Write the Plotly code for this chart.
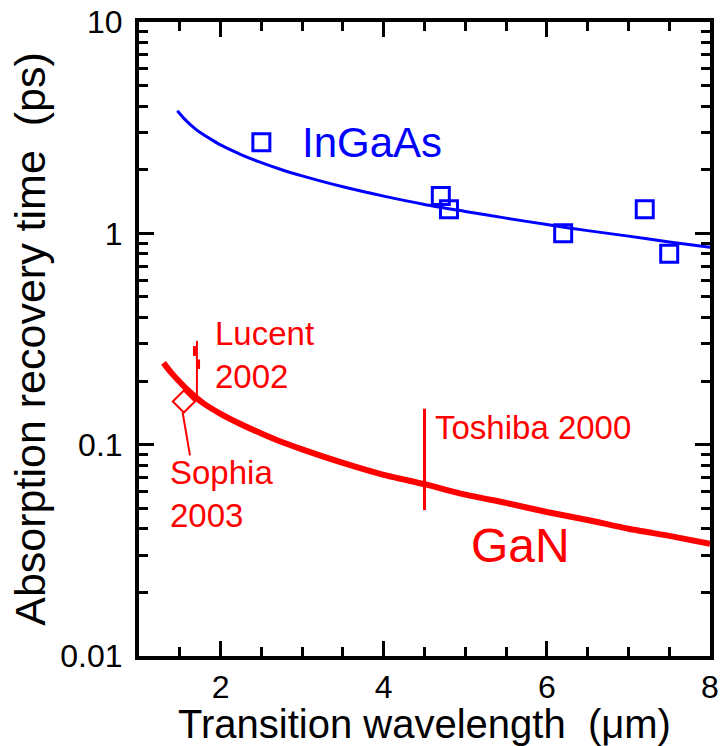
import math
import plotly.graph_objects as go

FONT = "Liberation Sans, Arial, sans-serif"
BLUE = "#0000ff"
RED = "#ff0000"

# InGaAs: model curve and measured recovery times
ingaas_fit_x = [1.47, 1.55, 1.65, 1.75, 1.9, 2.0, 2.25, 2.5, 2.75, 3.0, 3.5, 4.0,
                4.5, 5.0, 5.5, 6.0, 6.5, 7.0, 7.5, 8.0]
ingaas_fit_y = [3.8, 3.5, 3.22, 3.0, 2.76, 2.62, 2.36, 2.16, 2.0, 1.87, 1.66, 1.5,
                1.37, 1.27, 1.18, 1.1, 1.03, 0.97, 0.91, 0.86]
ingaas_x = [2.5, 4.7, 4.8, 6.2, 7.2, 7.5]
ingaas_y = [2.7, 1.5, 1.3, 1.0, 1.3, 0.8]

# GaN: model curve
gan_fit_x = [1.3, 1.4, 1.5, 1.6, 1.7, 1.8, 2.0, 2.25, 2.5, 2.75, 3.0, 3.5, 4.0,
             4.5, 5.0, 5.5, 6.0, 6.5, 7.0, 7.5, 8.0]
gan_fit_y = [0.244, 0.218, 0.198, 0.181, 0.167, 0.156, 0.140, 0.125, 0.113, 0.103,
             0.095, 0.082, 0.072, 0.065, 0.058, 0.053, 0.048, 0.044, 0.040, 0.037, 0.034]

# Reported GaN results
lucent_x = [1.71, 1.71]
lucent_y = [0.31, 0.165]
lucent_tick1_x = [1.68, 1.68]
lucent_tick1_y = [0.293, 0.263]
lucent_tick2_x = [1.73, 1.73]
lucent_tick2_y = [0.253, 0.228]
sophia_x = [1.55]
sophia_y = [0.16]
sophia_lead_x = [1.535, 1.625]
sophia_lead_y = [0.142, 0.089]
toshiba_x = [4.5, 4.5]
toshiba_y = [0.049, 0.148]

x_ticks = [2, 4, 6, 8]
x_minor = [1.5, 2.5, 3, 3.5, 4.5, 5, 5.5, 6.5, 7, 7.5]
y_ticks = [0.01, 0.1, 1, 10]
y_ticktext = ["0.01", "0.1", "1", "10"]
y_minor = [m * d for d in (0.01, 0.1, 1) for m in range(2, 10)]

fig = go.Figure()

fig.add_trace(go.Scatter(x=ingaas_fit_x, y=ingaas_fit_y, mode="lines",
                         line=dict(color=BLUE, width=3, shape="spline", smoothing=0.6)))
fig.add_trace(go.Scatter(x=ingaas_x, y=ingaas_y, mode="markers",
                         marker=dict(symbol="square-open", size=17, color=BLUE,
                                     line=dict(width=3, color=BLUE))))
fig.add_trace(go.Scatter(x=gan_fit_x, y=gan_fit_y, mode="lines",
                         line=dict(color=RED, width=6, shape="spline", smoothing=0.6)))

for xs, ys, w in [(lucent_x, lucent_y, 2), (lucent_tick1_x, lucent_tick1_y, 3),
                  (lucent_tick2_x, lucent_tick2_y, 3), (toshiba_x, toshiba_y, 3),
                  (sophia_lead_x, sophia_lead_y, 2)]:
    fig.add_trace(go.Scatter(x=xs, y=ys, mode="lines",
                             line=dict(color=RED, width=w)))

fig.add_trace(go.Scatter(x=sophia_x, y=sophia_y, mode="markers",
                         marker=dict(symbol="diamond-open", size=17, color=RED,
                                     line=dict(width=2, color=RED))))

labels = [
    ("InGaAs", 3.86, 2.7, BLUE, 42, "center"),
    ("GaN", 5.68, 0.0332, RED, 48, "center"),
    ("Lucent<br>2002", 1.908, 0.265, RED, 33, "left"),
    ("Toshiba 2000", 4.607, 0.1205, RED, 33, "left"),
    ("Sophia<br>2003", 1.356, 0.0585, RED, 33, "left"),
]
for text, lx, ly, col, size, anchor in labels:
    fig.add_annotation(x=lx, y=math.log10(ly), xref="x", yref="y", text=text,
                       showarrow=False, xanchor=anchor, yanchor="middle",
                       align="left", font=dict(family=FONT, size=size, color=col))

axis_common = dict(
    showline=True, linecolor="black", linewidth=4, mirror="ticks",
    ticks="inside", tickcolor="black", tickwidth=3,
    showgrid=False, zeroline=False, automargin=False,
    tickfont=dict(family=FONT, size=32, color="black"),
)

fig.update_xaxes(
    range=[1, 8], tickvals=x_ticks, ticklen=15,
    minor=dict(tickvals=x_minor, ticks="inside", ticklen=9, tickwidth=3, tickcolor="black"),
    title=dict(text="Transition wavelength\u00a0 (\u03bcm)", font=dict(family=FONT, size=40, color="black"),
               standoff=0),
    **axis_common,
)
fig.update_yaxes(
    type="log", range=[-2, 1], tickvals=y_ticks, ticktext=y_ticktext, ticklen=15,
    ticklabelstandoff=6,
    minor=dict(tickvals=y_minor, ticks="inside", ticklen=9, tickwidth=3, tickcolor="black"),
    title=dict(text="Absorption recovery time\u00a0 (ps)", font=dict(family=FONT, size=43, color="black"),
               standoff=2),
    **axis_common,
)

fig.update_layout(
    width=722, height=746,
    margin=dict(l=139, r=12, t=22, b=90),
    paper_bgcolor="white", plot_bgcolor="white",
    showlegend=False,
    font=dict(family=FONT),
)

fig.write_html("out.html")
